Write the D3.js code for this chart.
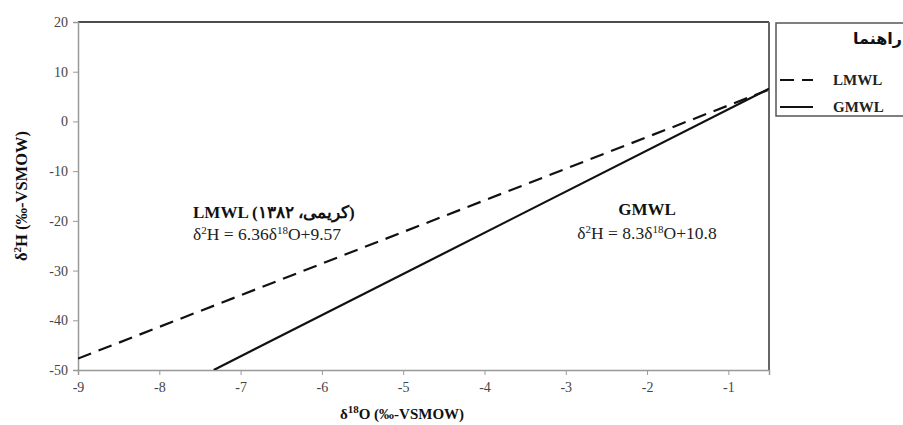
<!DOCTYPE html>
<html lang="fa">
<head>
<meta charset="UTF-8">
<title>LMWL vs GMWL</title>
<script src="https://d3js.org/d3.v7.min.js"></script>
<style>
  body { margin: 0; background: #fff; }
  svg { display: block; font-family: "Liberation Serif", "Times New Roman", serif; }
  .axis-title { font-weight: bold; fill: #111; }
  .ann-bold { font-weight: bold; font-size: 17px; fill: #111; }
  .ann { font-size: 17.5px; fill: #222; }
  .leg-text { font-weight: bold; font-size: 15px; fill: #222; }
</style>
</head>
<body>
<div id="chart"></div>
<script>
// values
const xDomain = [-9, -0.5];
const yDomain = [-50, 20];
const xTicks = [-9, -8, -7, -6, -5, -4, -3, -2, -1];
const yTicks = [-50, -40, -30, -20, -10, 0, 10, 20];

const seriesNames = ["LMWL", "GMWL"];
const lmwlO = [-9, -0.5];
const lmwlH = [-47.7, 6.4];
const gmwlO = [-7.33, -0.5];
const gmwlH = [-50, 6.6];

const width = 903, height = 425;
const margin = { top: 22, right: 134, bottom: 55, left: 78 };
const plotW = width - margin.left - margin.right;
const plotH = height - margin.top - margin.bottom;

const svg = d3.select("#chart").append("svg")
    .attr("width", width)
    .attr("height", height);

const x = d3.scaleLinear().domain(xDomain).range([margin.left, margin.left + plotW]);
const y = d3.scaleLinear().domain(yDomain).range([margin.top + plotH, margin.top]);

// frame: top and right borders
svg.append("line")
    .attr("x1", x(xDomain[0])).attr("x2", x(xDomain[1]))
    .attr("y1", y(yDomain[1])).attr("y2", y(yDomain[1]))
    .attr("stroke", "#111").attr("stroke-width", 1.5);
svg.append("line")
    .attr("x1", x(xDomain[1])).attr("x2", x(xDomain[1]))
    .attr("y1", y(yDomain[1])).attr("y2", y(yDomain[0]))
    .attr("stroke", "#666").attr("stroke-width", 2);

// axes (plain hyphen for minus, like the original)
const fmt = d => String(d);
const xAxis = svg.append("g")
    .attr("transform", `translate(0,${y(yDomain[0])})`)
    .call(d3.axisBottom(x).tickValues(xTicks).tickSize(5).tickPadding(7).tickFormat(fmt));
const yAxis = svg.append("g")
    .attr("transform", `translate(${x(xDomain[0])},0)`)
    .call(d3.axisLeft(y).tickValues(yTicks).tickSize(5).tickPadding(5).tickFormat(fmt));

[xAxis, yAxis].forEach(a => {
    a.attr("font-family", "Liberation Serif, serif").attr("font-size", 14);
    a.select(".domain").attr("stroke", "#999").attr("stroke-width", 1.5);
    a.selectAll(".tick line").attr("stroke", "#999");
    a.selectAll(".tick text").attr("fill", "#444");
});

// axis titles
const xt = svg.append("text")
    .attr("class", "axis-title")
    .attr("font-size", 15)
    .attr("x", 402).attr("y", 419)
    .attr("text-anchor", "middle");
xt.append("tspan").text("δ");
xt.append("tspan").attr("baseline-shift", "super").attr("font-size", 11).text("18");
xt.append("tspan").text("O (‰-VSMOW)");

const yt = svg.append("text")
    .attr("class", "axis-title")
    .attr("font-size", 16.5)
    .attr("transform", `translate(27,${(y(yDomain[0]) + y(yDomain[1])) / 2}) rotate(-90)`)
    .attr("text-anchor", "middle");
yt.append("tspan").text("δ");
yt.append("tspan").attr("baseline-shift", "super").attr("font-size", 11).text("2");
yt.append("tspan").text("H (‰-VSMOW)");

// lines
const line = d3.line().x(d => x(d[0])).y(d => y(d[1]));
const lmwl = d3.zip(lmwlO, lmwlH);
const gmwl = d3.zip(gmwlO, gmwlH);

svg.append("clipPath").attr("id", "plot-clip")
    .append("rect")
    .attr("x", margin.left).attr("y", margin.top)
    .attr("width", plotW).attr("height", plotH);

const lines = svg.append("g").attr("clip-path", "url(#plot-clip)");
lines.append("path").datum(lmwl)
    .attr("d", line)
    .attr("fill", "none").attr("stroke", "#111").attr("stroke-width", 2.2)
    .attr("stroke-dasharray", "14,8");
lines.append("path").datum(gmwl)
    .attr("d", line)
    .attr("fill", "none").attr("stroke", "#111").attr("stroke-width", 2.2);

// equation annotations
function equation(g, xPos, yPos, anchor, slope, icpt) {
    const t = g.append("text").attr("class", "ann")
        .attr("x", xPos).attr("y", yPos).attr("text-anchor", anchor);
    t.append("tspan").text("δ");
    t.append("tspan").attr("baseline-shift", "super").attr("font-size", 11).text("2");
    t.append("tspan").text("H = " + slope + "δ");
    t.append("tspan").attr("baseline-shift", "super").attr("font-size", 11).text("18");
    t.append("tspan").text("O+" + icpt);
}
const ann = svg.append("g");
ann.append("text").attr("class", "ann-bold")
    .attr("x", 193).attr("y", 218)
    .text("LMWL (کریمی، ۱۳۸۲)");
equation(ann, 193, 240, "start", "6.36", "9.57");
ann.append("text").attr("class", "ann-bold")
    .attr("x", 647).attr("y", 215).attr("text-anchor", "middle")
    .text("GMWL");
equation(ann, 647, 239, "middle", "8.3", "10.8");

// legend
const legend = svg.append("g");
legend.append("rect")
    .attr("x", 776).attr("y", 23)
    .attr("width", 140).attr("height", 93)
    .attr("fill", "#fff").attr("stroke", "#555").attr("stroke-width", 1.5);
legend.append("text")
    .attr("x", 902).attr("y", 44)
    .attr("text-anchor", "end")
    .attr("font-family", "DejaVu Sans, sans-serif")
    .attr("font-weight", "bold").attr("font-size", 16)
    .attr("fill", "#111")
    .text("راهنما");

const legRows = legend.selectAll(".leg-row")
    .data(seriesNames)
    .enter().append("g")
    .attr("class", "leg-row")
    .attr("transform", (d, i) => `translate(0,${80 + i * 27})`);
legRows.append("line")
    .attr("x1", 780).attr("x2", 813)
    .attr("y1", 0).attr("y2", 0)
    .attr("stroke", "#111").attr("stroke-width", 2)
    .attr("stroke-dasharray", d => d === "LMWL" ? "14,8" : null);
legRows.append("text")
    .attr("class", "leg-text")
    .attr("x", 833).attr("y", 5)
    .text(d => d);
</script>
</body>
</html>
